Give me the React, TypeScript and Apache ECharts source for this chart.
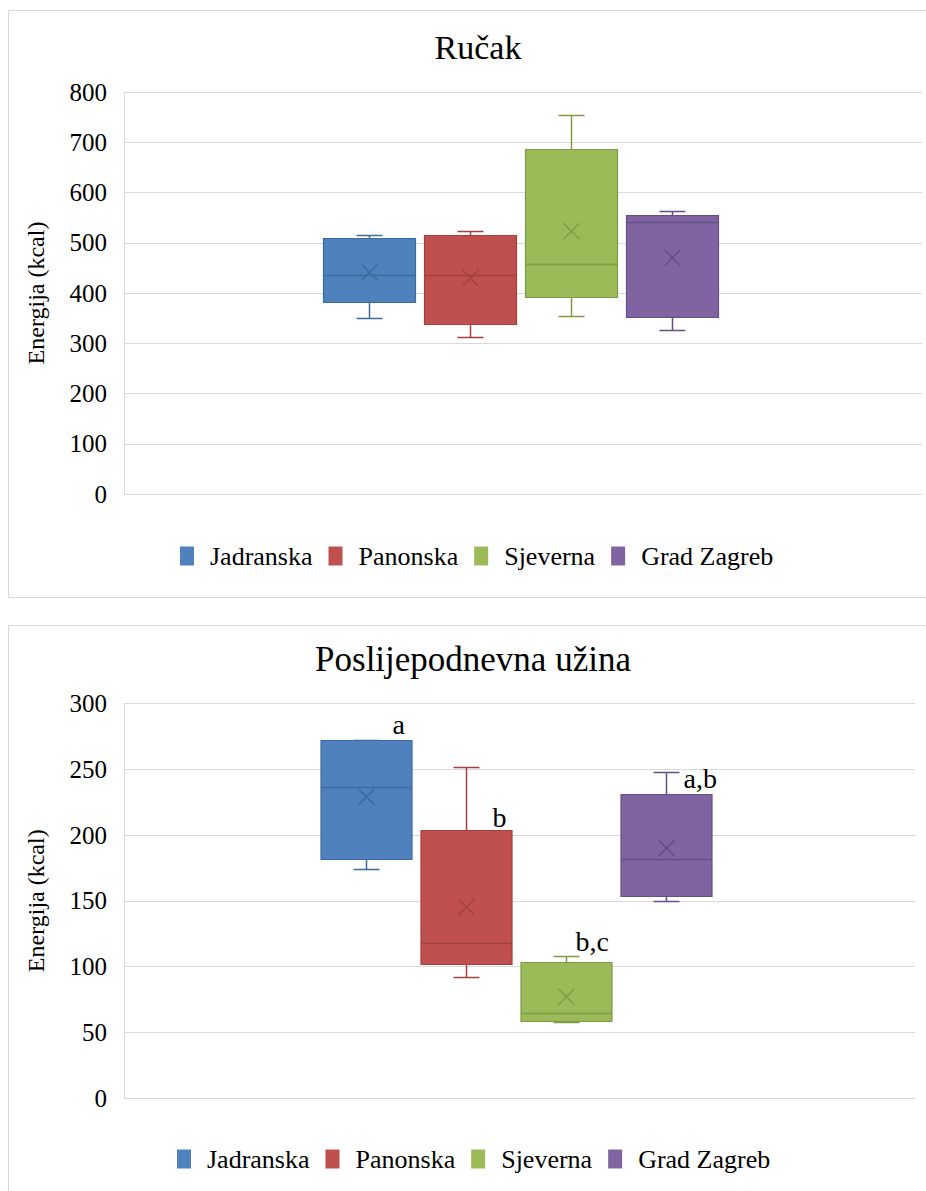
import React, { useEffect, useRef } from "react";
import * as echarts from "echarts";

// ---------- data ----------
const regions = ["Jadranska", "Panonska", "Sjeverna", "Grad Zagreb"];

// Ručak: [min, Q1, median, Q3, max]
const rucakJadranska = [350, 382, 435, 510, 515];
const rucakPanonska = [313, 338, 435, 516, 523];
const rucakSjeverna = [355, 393, 457, 686, 755];
const rucakZagreb = [326, 352, 541, 556, 563];
const rucakMeans = [441, 430, 523, 470];

// Poslijepodnevna užina: [min, Q1, median, Q3, max]
const uzinaJadranska = [174, 182, 236.6, 272, 272];
const uzinaPanonska = [92, 101.6, 117.5, 203.6, 252];
const uzinaSjeverna = [58, 58.8, 64.4, 103.6, 108];
const uzinaZagreb = [149.7, 153.5, 181.4, 231, 248];
const uzinaMeans = [229, 145, 77, 190];
const uzinaLetters = ["a", "b", "b,c", "a,b"];
const uzinaLetterValues = [278, 207, 113, 237];

const rucakTitle = "Ručak";
const uzinaTitle = "Poslijepodnevna užina";
const yName = "Energija (kcal)";

// ---------- styles ----------
const fills = ["#4F81BD", "#C0504D", "#9BBB59", "#8064A2"];
const darks = ["#3E6B9F", "#A2403D", "#7E9C45", "#654F87"];
const letterDx = [26, 26, 9, 17];
const FONT = "Liberation Serif";

function makeRender(ratio: number, withLetters: boolean) {
  return (params: any, api: any) => {
    const i = api.value(0);
    const vals = [1, 2, 3, 4, 5, 6].map((k) => api.value(k));
    const band = api.size([1, 0])[0];
    const w = Math.round(band * ratio);
    const c = api.coord([i, vals[0]]);
    const cx = Math.round(c[0]) + 0.5;
    const y = (v: number) => Math.round(api.coord([i, v])[1]) + 0.5;
    const yMin = y(vals[0]);
    const yQ1 = y(vals[1]);
    const yMed = y(vals[2]);
    const yQ3 = y(vals[3]);
    const yMax = y(vals[4]);
    const yMean = api.coord([i, vals[5]])[1];
    const dark = darks[i];
    const fill = fills[i];
    const cap = 13;
    const ls = { stroke: dark, lineWidth: 1.5 };
    const left = cx - w / 2;
    const children: any[] = [
      { type: "line", shape: { x1: cx, y1: yQ3, x2: cx, y2: yMax }, style: ls },
      { type: "line", shape: { x1: cx - cap, y1: yMax, x2: cx + cap, y2: yMax }, style: ls },
      { type: "line", shape: { x1: cx, y1: yQ1, x2: cx, y2: yMin }, style: ls },
      { type: "line", shape: { x1: cx - cap, y1: yMin, x2: cx + cap, y2: yMin }, style: ls },
      {
        type: "rect",
        shape: { x: left, y: yQ3, width: w, height: yQ1 - yQ3 },
        style: { fill, stroke: dark, lineWidth: 1.2 },
      },
      { type: "line", shape: { x1: left, y1: yMed, x2: left + w, y2: yMed }, style: { stroke: dark, lineWidth: 1.5 } },
      { type: "line", shape: { x1: cx - 8, y1: yMean - 8, x2: cx + 8, y2: yMean + 8 }, style: { stroke: dark, lineWidth: 1.5 } },
      { type: "line", shape: { x1: cx - 8, y1: yMean + 8, x2: cx + 8, y2: yMean - 8 }, style: { stroke: dark, lineWidth: 1.5 } },
    ];
    if (withLetters) {
      const ly = api.coord([i, uzinaLetterValues[i]])[1];
      children.push({
        type: "text",
        x: cx + letterDx[i],
        y: ly + 6,
        style: {
          text: uzinaLetters[i],
          fontSize: 28,
          fontFamily: FONT,
          fill: "#000",
          align: "left",
          verticalAlign: "bottom",
        },
      });
    }
    return { type: "group", children };
  };
}

export default function App() {
  const ref = useRef<HTMLDivElement>(null);
  useEffect(() => {
    if (!ref.current) return;
    const chart = echarts.init(ref.current, undefined, { renderer: "svg" });
    const rucak = [rucakJadranska, rucakPanonska, rucakSjeverna, rucakZagreb];
    const uzina = [uzinaJadranska, uzinaPanonska, uzinaSjeverna, uzinaZagreb];

    const tickLabel = { fontSize: 25, fontFamily: FONT, color: "#000", margin: 17 };
    const mainY = (min: number, max: number, interval: number, gridIndex: number) => ({
      type: "value",
      gridIndex,
      min,
      max,
      interval,
      name: yName,
      nameLocation: "middle",
      nameGap: 76,
      nameTextStyle: { fontSize: 24, fontFamily: FONT, color: "#000" },
      axisLine: { show: true, lineStyle: { color: "#d9d9d9", width: 1 } },
      axisTick: { show: false },
      axisLabel: tickLabel,
      splitLine: { lineStyle: { color: "#d9d9d9", width: 1 } },
    });
    const hiddenY = (min: number, max: number, interval: number, gridIndex: number) => ({
      type: "value",
      gridIndex,
      min,
      max,
      interval,
      show: false,
      splitLine: { show: false },
    });
    const mainX = (gridIndex: number) => ({
      type: "category",
      gridIndex,
      data: [""],
      axisLine: { show: true, lineStyle: { color: "#d9d9d9", width: 1 } },
      axisTick: { show: false },
      axisLabel: { show: false },
    });
    const hiddenX = (gridIndex: number) => ({
      type: "category",
      gridIndex,
      data: regions,
      show: false,
    });

    const series: any[] = [];
    regions.forEach((name, i) => {
      series.push({
        type: "custom",
        name,
        xAxisIndex: 1,
        yAxisIndex: 1,
        itemStyle: { color: fills[i] },
        renderItem: makeRender(0.91, false),
        data: [[i, ...rucak[i], rucakMeans[i]]],
        encode: { x: 0, y: [1, 2, 3, 4, 5, 6] },
      });
    });
    regions.forEach((name, i) => {
      series.push({
        type: "custom",
        name,
        xAxisIndex: 3,
        yAxisIndex: 3,
        itemStyle: { color: fills[i] },
        renderItem: makeRender(0.91, true),
        data: [[i, ...uzina[i], uzinaMeans[i]]],
        encode: { x: 0, y: [1, 2, 3, 4, 5, 6] },
      });
    });

    const legendBase = {
      data: regions,
      icon: "rect",
      itemWidth: 14,
      itemHeight: 19,
      itemGap: 16,
      padding: 0,
      selectedMode: false,
      textStyle: { fontSize: 26, fontFamily: FONT, color: "#000", padding: [0, 0, 0, 11] },
    };

    chart.setOption({
      animation: false,
      backgroundColor: "#ffffff",
      title: [
        {
          text: rucakTitle,
          left: 473,
          top: 25,
          textAlign: "center",
          textStyle: { fontSize: 34, fontWeight: "normal", fontFamily: FONT, color: "#000" },
        },
        {
          text: uzinaTitle,
          left: 468,
          top: 637,
          textAlign: "center",
          textStyle: { fontSize: 35, fontWeight: "normal", fontFamily: FONT, color: "#000" },
        },
      ],
      legend: [
        { ...legendBase, left: 180, top: 543 },
        { ...legendBase, left: 177, top: 1146 },
      ],
      grid: [
        { left: 124, top: 92, width: 798, height: 402 },
        { left: 318, top: 92, width: 404, height: 402 },
        { left: 124, top: 703.5, width: 791, height: 394.5 },
        { left: 316, top: 703.5, width: 400, height: 394.5 },
      ],
      xAxis: [mainX(0), hiddenX(1), mainX(2), hiddenX(3)],
      yAxis: [
        mainY(0, 800, 100, 0),
        hiddenY(0, 800, 100, 1),
        mainY(0, 300, 50, 2),
        hiddenY(0, 300, 50, 3),
      ],
      graphic: [
        {
          type: "rect",
          shape: { x: 8.5, y: 10.5, width: 940, height: 587 },
          style: { fill: "none", stroke: "#d9d9d9", lineWidth: 1 },
          silent: true,
        },
        {
          type: "rect",
          shape: { x: 8.5, y: 625.5, width: 940, height: 600 },
          style: { fill: "none", stroke: "#d9d9d9", lineWidth: 1 },
          silent: true,
        },
      ],
      series,
    });
    return () => chart.dispose();
  }, []);
  return (
    <div
      ref={ref}
      style={{ position: "absolute", left: 0, top: 0, width: 926, height: 1191, background: "#fff" }}
    />
  );
}
